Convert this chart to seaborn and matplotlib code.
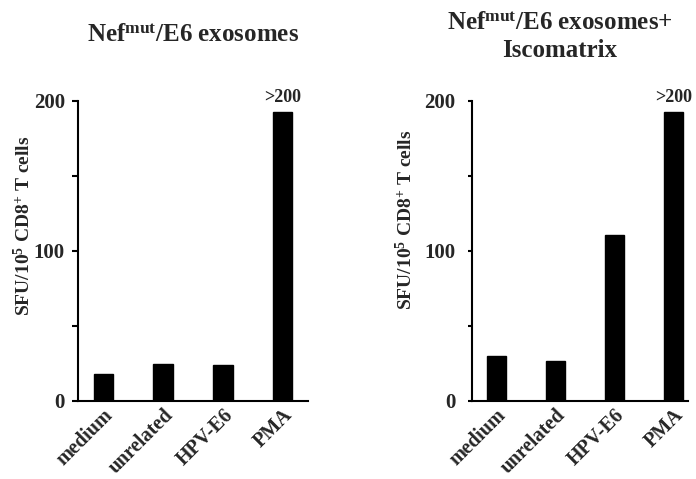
import matplotlib
matplotlib.use("Agg")
import matplotlib.pyplot as plt
import seaborn as sns

categories = ["medium", "unrelated", "HPV-E6", "PMA"]
left_values = [18, 25, 24, 193]
right_values = [30, 27, 111, 193]
yticks = [0, 100, 200]
minor_yticks = [50, 150]
left_title = r"Nef$^{\mathbf{mut}}$/E6 exosomes"
right_title = "Nef$^{\\mathbf{mut}}$/E6 exosomes+\nIscomatrix"
ylabel = r"SFU/10$^{\mathbf{5}}$ CD8$^{\mathbf{+}}$ T cells"
over_label = ">200"

sns.set_theme(style="ticks")
plt.rcParams["font.family"] = ["Liberation Serif", "DejaVu Serif"]
plt.rcParams["font.weight"] = "bold"
plt.rcParams["mathtext.fontset"] = "custom"
plt.rcParams["mathtext.rm"] = "Liberation Serif:bold"
plt.rcParams["mathtext.bf"] = "Liberation Serif:bold"
plt.rcParams["mathtext.it"] = "Liberation Serif:bold"

fig = plt.figure(figsize=(6.96, 4.79), dpi=100)
W, H = 696, 479
axL = fig.add_axes([78 / W, (H - 401) / H, 230 / W, 300 / H])
axR = fig.add_axes([472 / W, (H - 401) / H, 216 / W, 300 / H])

def draw(ax, values, xlim, ypad, tlen, lab_xy):
    sns.barplot(x=categories, y=values, color="black", saturation=1,
                width=0.32, ax=ax, edgecolor="black")
    ax.set_xlim(*xlim)
    ax.set_ylim(0, 200)
    ax.set_yticks(yticks)
    ax.set_yticks(minor_yticks, minor=True)
    ax.set_yticklabels([str(v) for v in yticks], fontsize=15, fontweight="bold")
    ax.tick_params(axis="y", which="both", direction="out", length=tlen,
                   width=1.5, pad=ypad, color="black")
    ax.tick_params(axis="x", length=0, pad=3)
    ax.set_xticks(range(len(categories)))
    ax.set_xticklabels(categories, rotation=45, ha="right",
                       rotation_mode="anchor", fontsize=14.5, fontweight="bold")
    for s in ["top", "right"]:
        ax.spines[s].set_visible(False)
    for s in ["left", "bottom"]:
        ax.spines[s].set_linewidth(1.5)
        ax.spines[s].set_color("black")
    ax.set_ylabel(ylabel, fontsize=14, fontweight="bold")
    ax.yaxis.set_label_coords(*lab_xy)
    ax.set_xlabel("")
    ax.annotate(over_label, xy=(3, values[3]), xytext=(0, 4),
                textcoords="offset points", ha="center", va="bottom",
                fontsize=13, fontweight="bold")
    ax.set_facecolor("white")

draw(axL, left_values, (-0.42, 3.42), 5, 4.5, (-0.19, 0.583))
draw(axR, right_values, (-0.41, 3.25), 9, 3, (-0.26, 0.603))

fig.text(193 / W, 1 - 36 / H, left_title, ha="center", va="center",
         fontsize=18, fontweight="bold")
fig.text(560 / W, 1 - 37 / H, right_title, ha="center", va="center",
         fontsize=18, fontweight="bold", linespacing=1.2)

fig.savefig("out.png", dpi=100, facecolor="white")
